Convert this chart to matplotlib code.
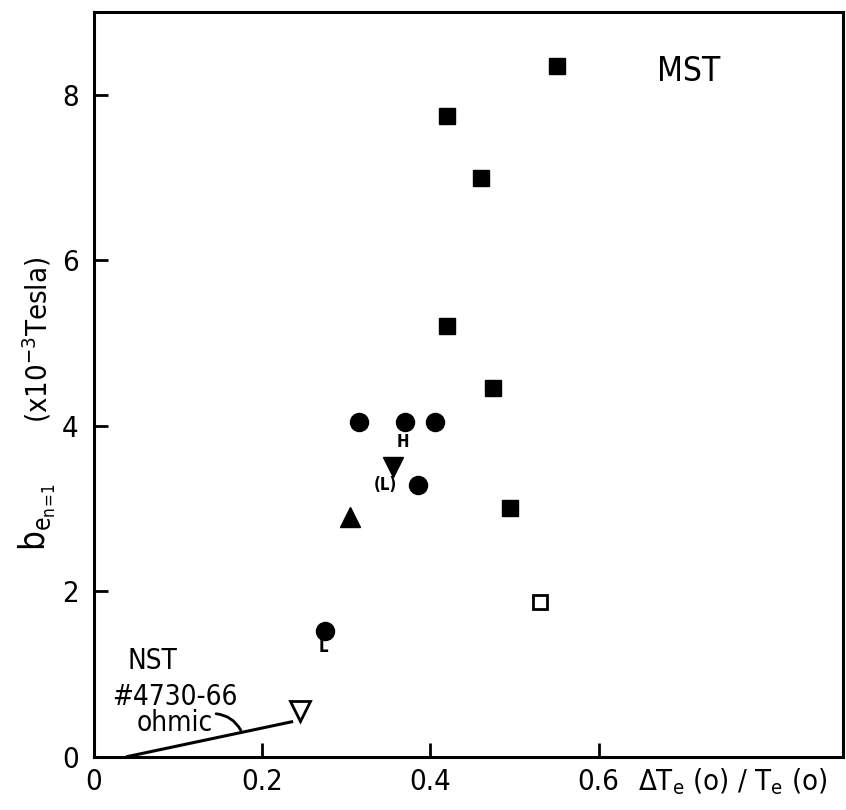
import matplotlib
matplotlib.use("Agg")
import matplotlib.pyplot as plt
from matplotlib.patches import FancyArrowPatch

plt.rcParams['font.family'] = ['DejaVu Sans']
plt.rcParams['font.stretch'] = 'condensed'

# MST data
sq_x = [0.55, 0.42, 0.46, 0.42, 0.475, 0.495]
sq_y = [8.35, 7.75, 7.0, 5.2, 4.45, 3.0]
osq_x = [0.53]
osq_y = [1.87]
circ_x = [0.315, 0.37, 0.405, 0.385, 0.275]
circ_y = [4.05, 4.05, 4.05, 3.28, 1.52]
dtri_x = [0.355]
dtri_y = [3.5]
utri_x = [0.305]
utri_y = [2.9]
# NST data
nst_x = [0.245]
nst_y = [0.55]
nst_line_x = [0.04, 0.235]
nst_line_y = [0.0, 0.42]

xticks = [0, 0.2, 0.4, 0.6]
xticklabels = ['0', '0.2', '0.4', '0.6']
yticks = [0, 2, 4, 6, 8]
yticklabels = ['0', '2', '4', '6', '8']

fig = plt.figure(figsize=(8.46, 8.10), dpi=100)
ax = fig.add_axes([0.111, 0.066, 0.885, 0.919])
ax.set_xlim(0, 0.89)
ax.set_ylim(0, 9.0)

ax.plot(sq_x, sq_y, 's', color='black', ms=11, mec='black')
ax.plot(osq_x, osq_y, 's', mfc='white', mec='black', ms=10, mew=2)
ax.plot(circ_x, circ_y, 'o', color='black', ms=13)
ax.plot(dtri_x, dtri_y, 'v', color='black', ms=15)
ax.plot(utri_x, utri_y, '^', color='black', ms=15)
ax.plot(nst_x, nst_y, 'v', mfc='white', mec='black', ms=15, mew=2)
ax.plot(nst_line_x, nst_line_y, '-', color='black', lw=2.2)

ax.set_xticks(xticks)
ax.set_xticklabels(xticklabels)
ax.set_yticks(yticks)
ax.set_yticklabels(yticklabels)
ax.tick_params(direction='in', length=10, width=2, labelsize=21)
ax.tick_params(axis='x', pad=8)
ax.tick_params(axis='y', pad=11)
for s in ax.spines.values():
    s.set_linewidth(2.2)

ax.text(0.707, 8.28, 'MST', fontsize=24, ha='center', va='center')
ax.text(0.367, 3.80, 'H', fontsize=12, ha='center', va='center', fontweight='bold')
ax.text(0.346, 3.28, '(L)', fontsize=12, ha='center', va='center', fontweight='bold')
ax.text(0.273, 1.32, 'L', fontsize=12, ha='center', va='center', fontweight='bold')
ax.text(0.07, 1.16, 'NST', fontsize=20, ha='center', va='center')
ax.text(0.096, 0.72, '#4730-66', fontsize=20, ha='center', va='center')
ax.text(0.096, 0.40, 'ohmic', fontsize=20, ha='center', va='center')
arr = FancyArrowPatch((0.142, 0.52), (0.176, 0.29), connectionstyle='arc3,rad=-0.3',
                      arrowstyle='-', color='black', lw=2)
ax.add_patch(arr)

fig.text(0.044, 0.362, r'$\mathrm{b_{e_{n\!=\!1}}}$', fontsize=25, rotation=90,
         ha='center', va='center')
fig.text(0.044, 0.581, r'(x10$^{-3}$Tesla)', fontsize=21, rotation=90,
         ha='center', va='center')
fig.text(0.978, 0.016, r'$\Delta$T$_\mathrm{e}$ (o) / T$_\mathrm{e}$ (o)', fontsize=21,
         ha='right', va='bottom')

fig.savefig('out.png', dpi=100)
